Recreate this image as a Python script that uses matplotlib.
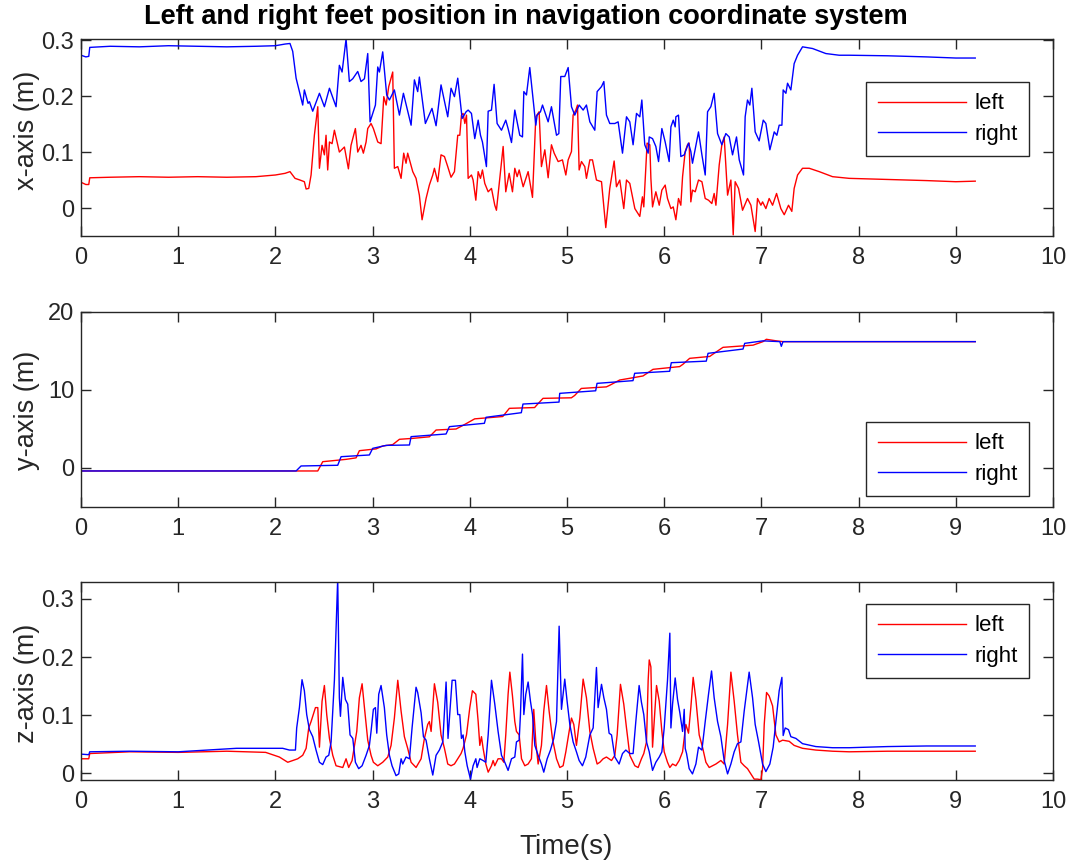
import numpy as np
import matplotlib
matplotlib.use("Agg")
import matplotlib.pyplot as plt

plt.rcParams['font.family'] = ['Liberation Sans', 'DejaVu Sans']

# ---------------- data (time [s], value) ----------------
x_left = [(0,0.046),(0.05,0.042),(0.08,0.042),(0.09,0.054),(0.3,0.055),(0.6,0.056),(0.9,0.055),(1.2,0.056),(1.5,0.055),(1.8,0.056),(2.0,0.059),(2.1,0.062),(2.15,0.065),(2.202,0.053),(2.253,0.050),(2.298,0.047),(2.316,0.034),(2.343,0.035),(2.367,0.059),(2.401,0.130),(2.436,0.181),(2.453,0.071),(2.480,0.112),(2.504,0.095),(2.521,0.130),(2.538,0.068),(2.556,0.118),(2.583,0.115),(2.607,0.139),(2.658,0.100),(2.710,0.109),(2.751,0.070),(2.778,0.112),(2.823,0.142),(2.847,0.100),(2.881,0.112),(2.905,0.098),(2.933,0.118),(2.950,0.142),(2.984,0.151),(3.008,0.142),(3.053,0.118),(3.087,0.115),(3.115,0.199),(3.139,0.184),(3.166,0.217),(3.207,0.243),(3.224,0.071),(3.259,0.074),(3.293,0.053),(3.320,0.098),(3.344,0.080),(3.361,0.098),(3.413,0.065),(3.447,0.053),(3.481,0.023),(3.509,-0.021),(3.550,0.017),(3.584,0.041),(3.619,0.059),(3.636,0.071),(3.670,0.047),(3.704,0.095),(3.739,0.092),(3.773,0.074),(3.807,0.055),(3.842,0.065),(3.876,0.130),(3.897,0.130),(3.914,0.166),(3.931,0.169),(3.949,0.151),(3.966,0.166),(3.983,0.053),(4.017,0.059),(4.034,0.050),(4.062,0.014),(4.086,0.065),(4.110,0.053),(4.130,0.068),(4.154,0.044),(4.189,0.029),(4.223,0.035),(4.257,0.005),(4.274,-0.004),(4.309,0.053),(4.343,0.110),(4.370,0.029),(4.405,0.062),(4.439,0.029),(4.463,0.071),(4.487,0.056),(4.508,0.068),(4.549,0.038),(4.600,0.065),(4.645,0.019),(4.679,0.163),(4.713,0.172),(4.737,0.074),(4.772,0.104),(4.806,0.054),(4.840,0.113),(4.868,0.098),(4.909,0.083),(4.953,0.086),(4.988,0.059),(5.012,0.086),(5.046,0.101),(5.063,0.166),(5.091,0.175),(5.108,0.184),(5.125,0.068),(5.149,0.083),(5.183,0.074),(5.200,0.053),(5.235,0.086),(5.262,0.086),(5.303,0.050),(5.355,0.047),(5.399,-0.035),(5.440,0.035),(5.485,0.084),(5.509,0.038),(5.543,0.050),(5.584,-0.001),(5.612,0.050),(5.646,0.044),(5.698,-0.001),(5.749,-0.015),(5.776,0.020),(5.790,0.002),(5.824,0.116),(5.852,0.113),(5.863,0.053),(5.880,0.002),(5.914,0.029),(5.949,0.005),(5.976,0.032),(6.010,0.041),(6.034,0.017),(6.069,-0.001),(6.093,0.002),(6.120,-0.021),(6.147,0.017),(6.171,0.005),(6.189,0.056),(6.216,0.101),(6.240,0.113),(6.257,0.116),(6.274,0.011),(6.291,0.032),(6.319,0.029),(6.353,0.050),(6.388,0.047),(6.422,0.017),(6.456,0.014),(6.490,0.008),(6.514,0.026),(6.532,0.005),(6.566,0.077),(6.593,0.113),(6.617,0.127),(6.652,0.023),(6.686,0.050),(6.710,-0.048),(6.730,0.047),(6.765,0.035),(6.806,-0.004),(6.857,0.017),(6.892,0.005),(6.936,-0.042),(6.960,0.017),(6.995,0.005),(7.012,0.011),(7.046,-0.001),(7.080,0.017),(7.115,0.005),(7.156,0.026),(7.200,-0.001),(7.235,-0.012),(7.279,0.005),(7.313,-0.006),(7.337,0.035),(7.372,0.059),(7.423,0.071),(7.492,0.071),(7.595,0.065),(7.732,0.056),(7.903,0.053),(8.3,0.051),(8.7,0.049),(9.0,0.047),(9.2,0.048)]

x_right = [(0,0.273),(0.05,0.270),(0.08,0.271),(0.09,0.287),(0.3,0.289),(0.6,0.288),(0.9,0.290),(1.2,0.289),(1.5,0.288),(1.8,0.289),(2.0,0.290),(2.1,0.293),(2.15,0.294),(2.178,0.280),(2.213,0.232),(2.264,0.196),(2.281,0.184),(2.298,0.211),(2.336,0.187),(2.350,0.190),(2.384,0.173),(2.453,0.205),(2.504,0.181),(2.556,0.214),(2.624,0.181),(2.658,0.255),(2.686,0.243),(2.727,0.302),(2.761,0.226),(2.796,0.231),(2.847,0.244),(2.881,0.226),(2.916,0.231),(2.950,0.276),(2.974,0.154),(3.029,0.184),(3.053,0.252),(3.070,0.243),(3.104,0.279),(3.145,0.202),(3.173,0.193),(3.224,0.211),(3.276,0.166),(3.317,0.205),(3.396,0.148),(3.430,0.229),(3.464,0.208),(3.481,0.234),(3.543,0.151),(3.611,0.178),(3.653,0.147),(3.704,0.220),(3.773,0.163),(3.807,0.214),(3.842,0.199),(3.876,0.232),(3.921,0.160),(3.962,0.172),(3.983,0.175),(4.017,0.169),(4.051,0.124),(4.086,0.157),(4.110,0.130),(4.130,0.118),(4.171,0.074),(4.189,0.173),(4.223,0.175),(4.250,0.221),(4.281,0.151),(4.326,0.139),(4.370,0.157),(4.394,0.142),(4.429,0.117),(4.463,0.175),(4.514,0.130),(4.542,0.127),(4.556,0.208),(4.583,0.202),(4.617,0.251),(4.645,0.205),(4.679,0.148),(4.693,0.166),(4.727,0.172),(4.748,0.184),(4.806,0.154),(4.840,0.181),(4.892,0.130),(4.916,0.133),(4.936,0.235),(4.977,0.235),(5.012,0.251),(5.046,0.181),(5.080,0.166),(5.125,0.184),(5.166,0.175),(5.200,0.184),(5.235,0.154),(5.286,0.139),(5.310,0.208),(5.355,0.217),(5.379,0.226),(5.406,0.166),(5.440,0.151),(5.492,0.151),(5.526,0.154),(5.571,0.098),(5.612,0.163),(5.646,0.154),(5.680,0.113),(5.715,0.169),(5.749,0.163),(5.770,0.193),(5.800,0.113),(5.835,0.098),(5.846,0.127),(5.880,0.124),(5.914,0.110),(5.942,0.083),(5.976,0.142),(6.010,0.118),(6.051,0.083),(6.069,0.145),(6.093,0.157),(6.113,0.145),(6.120,0.163),(6.147,0.166),(6.171,0.092),(6.206,0.095),(6.250,0.116),(6.274,0.101),(6.291,0.080),(6.353,0.136),(6.388,0.095),(6.422,0.059),(6.446,0.172),(6.480,0.181),(6.514,0.205),(6.549,0.133),(6.593,0.113),(6.634,0.133),(6.669,0.127),(6.703,0.095),(6.744,0.127),(6.772,0.086),(6.816,0.059),(6.833,0.163),(6.857,0.193),(6.881,0.184),(6.902,0.214),(6.936,0.136),(6.977,0.120),(7.019,0.157),(7.046,0.151),(7.087,0.104),(7.132,0.136),(7.159,0.130),(7.183,0.148),(7.211,0.148),(7.224,0.211),(7.252,0.205),(7.269,0.223),(7.303,0.211),(7.337,0.258),(7.372,0.273),(7.423,0.288),(7.526,0.285),(7.663,0.276),(7.800,0.273),(7.903,0.273),(8.3,0.272),(8.7,0.270),(9.0,0.268),(9.2,0.268)]

y_left = [(0,-0.38),(2.436,-0.38),(2.487,0.81),(2.641,1.0),(2.727,1.11),(2.830,1.3),(2.864,2.22),(3.036,2.45),(3.104,2.82),(3.207,3.0),(3.276,3.68),(3.413,3.80),(3.584,4.0),(3.653,4.87),(3.859,5.0),(3.95,5.6),(4.05,6.3),(4.339,6.6),(4.407,7.65),(4.667,7.75),(4.684,8.0),(4.753,8.93),(5.045,9.0),(5.079,9.3),(5.147,10.2),(5.405,10.4),(5.439,10.6),(5.542,11.28),(5.645,11.5),(5.782,11.8),(5.885,12.65),(6.159,13.0),(6.193,13.3),(6.262,14.06),(6.468,14.3),(6.502,14.6),(6.605,15.47),(6.914,15.75),(7.016,16.2),(7.051,16.5),(7.154,16.3),(7.222,16.2),(9.2,16.2)]

y_right = [(0,-0.38),(2.213,-0.38),(2.264,0.26),(2.641,0.35),(2.676,1.45),(2.967,1.67),(3.001,2.52),(3.139,2.9),(3.379,2.95),(3.396,4.02),(3.756,4.36),(3.790,5.30),(4.150,5.73),(4.167,6.50),(4.530,7.09),(4.547,8.2),(4.918,8.45),(4.925,9.57),(5.295,9.9),(5.309,10.85),(5.679,11.2),(5.696,12.14),(6.056,12.4),(6.073,13.5),(6.433,13.7),(6.451,14.7),(6.811,15.25),(6.828,15.98),(7.016,16.3),(7.19,16.2),(7.205,15.6),(7.222,16.2),(9.2,16.2)]

z_left = [(0,0.025),(0.08,0.025),(0.09,0.034),(0.5,0.037),(1.0,0.036),(1.5,0.038),(1.9,0.036),(2.041,0.028),(2.127,0.019),(2.178,0.022),(2.230,0.025),(2.281,0.031),(2.316,0.043),(2.343,0.078),(2.367,0.089),(2.412,0.113),(2.436,0.113),(2.453,0.045),(2.480,0.124),(2.504,0.151),(2.528,0.101),(2.556,0.060),(2.590,0.031),(2.624,0.013),(2.693,0.010),(2.727,0.025),(2.754,0.010),(2.789,0.022),(2.837,0.072),(2.864,0.130),(2.892,0.154),(2.916,0.113),(2.950,0.057),(2.984,0.031),(3.008,0.019),(3.053,0.013),(3.104,0.019),(3.156,0.028),(3.190,0.048),(3.224,0.095),(3.259,0.160),(3.293,0.107),(3.327,0.063),(3.361,0.043),(3.396,0.019),(3.447,0.010),(3.499,0.025),(3.533,0.060),(3.567,0.084),(3.584,0.089),(3.602,0.072),(3.636,0.154),(3.670,0.122),(3.704,0.066),(3.739,0.043),(3.773,0.016),(3.807,0.013),(3.842,0.016),(3.876,0.025),(3.910,0.034),(3.931,0.043),(3.966,0.066),(4.0,0.113),(4.027,0.142),(4.062,0.136),(4.086,0.089),(4.103,0.048),(4.120,0.063),(4.137,0.043),(4.165,0.016),(4.189,0.002),(4.223,0.013),(4.240,0.022),(4.257,0.013),(4.291,0.025),(4.326,0.025),(4.350,0.019),(4.370,0.066),(4.394,0.136),(4.412,0.174),(4.439,0.133),(4.463,0.089),(4.480,0.072),(4.508,0.066),(4.532,0.025),(4.566,0.013),(4.600,0.016),(4.634,0.025),(4.658,0.110),(4.679,0.054),(4.703,0.016),(4.737,0.048),(4.761,0.107),(4.789,0.151),(4.816,0.107),(4.850,0.060),(4.892,0.025),(4.926,0.010),(4.960,0.013),(4.988,0.037),(5.022,0.072),(5.046,0.095),(5.070,0.084),(5.097,0.048),(5.132,0.095),(5.166,0.162),(5.200,0.130),(5.235,0.072),(5.269,0.043),(5.310,0.016),(5.338,0.019),(5.372,0.025),(5.406,0.028),(5.458,0.022),(5.492,0.031),(5.516,0.066),(5.550,0.153),(5.584,0.119),(5.612,0.078),(5.646,0.031),(5.698,0.013),(5.732,0.010),(5.766,0.025),(5.790,0.034),(5.818,0.054),(5.835,0.160),(5.846,0.195),(5.863,0.183),(5.880,0.045),(5.897,0.089),(5.921,0.151),(5.949,0.124),(5.976,0.072),(6.0,0.037),(6.034,0.019),(6.058,0.010),(6.086,0.016),(6.120,0.013),(6.154,0.022),(6.189,0.037),(6.223,0.084),(6.250,0.069),(6.274,0.113),(6.298,0.165),(6.326,0.127),(6.360,0.066),(6.394,0.045),(6.429,0.019),(6.463,0.010),(6.497,0.013),(6.532,0.016),(6.583,0.022),(6.617,0.016),(6.652,0.084),(6.686,0.174),(6.720,0.124),(6.754,0.066),(6.789,0.019),(6.823,0.013),(6.857,0.008),(6.892,-0.001),(6.926,-0.010),(6.960,-0.010),(6.995,-0.011),(7.012,0.008),(7.029,0.084),(7.053,0.139),(7.080,0.133),(7.115,0.116),(7.149,0.066),(7.183,0.054),(7.218,0.057),(7.286,0.055),(7.337,0.048),(7.423,0.043),(7.560,0.040),(7.732,0.038),(7.903,0.037),(8.3,0.038),(8.7,0.038),(9.2,0.038)]

z_right = [(0,0.033),(0.08,0.032),(0.09,0.037),(0.5,0.038),(1.0,0.037),(1.3,0.040),(1.6,0.043),(1.938,0.043),(2.075,0.043),(2.144,0.040),(2.206,0.040),(2.219,0.078),(2.247,0.113),(2.274,0.161),(2.298,0.142),(2.322,0.101),(2.350,0.075),(2.384,0.063),(2.418,0.040),(2.453,0.019),(2.487,0.015),(2.521,0.028),(2.549,0.031),(2.573,0.054),(2.607,0.160),(2.641,0.335),(2.658,0.130),(2.669,0.098),(2.693,0.165),(2.720,0.127),(2.744,0.119),(2.768,0.066),(2.796,0.060),(2.823,0.019),(2.857,0.008),(2.892,0.013),(2.933,0.031),(2.967,0.048),(2.984,0.072),(3.008,0.110),(3.029,0.113),(3.043,0.069),(3.063,0.136),(3.087,0.151),(3.121,0.113),(3.145,0.066),(3.173,0.031),(3.200,0.013),(3.241,-0.004),(3.269,-0.001),(3.293,0.025),(3.310,0.016),(3.344,0.028),(3.379,0.025),(3.406,0.078),(3.447,0.148),(3.464,0.139),(3.499,0.104),(3.523,0.063),(3.550,0.057),(3.584,0.025),(3.619,-0.003),(3.653,0.031),(3.687,0.040),(3.722,0.054),(3.756,0.157),(3.776,0.060),(3.818,0.160),(3.852,0.160),(3.876,0.101),(3.897,0.101),(3.914,0.060),(3.931,0.066),(3.949,0.037),(3.973,0.013),(4.007,-0.010),(4.034,0.013),(4.062,0.025),(4.075,0.010),(4.103,0.025),(4.137,0.022),(4.165,0.019),(4.189,0.066),(4.223,0.160),(4.257,0.119),(4.291,0.072),(4.326,0.031),(4.360,0.019),(4.394,0.005),(4.429,0.025),(4.463,0.028),(4.480,0.054),(4.508,0.057),(4.521,0.101),(4.542,0.205),(4.556,0.101),(4.576,0.136),(4.600,0.157),(4.624,0.124),(4.645,0.101),(4.669,0.048),(4.703,0.031),(4.737,0.016),(4.761,0.002),(4.796,0.025),(4.830,0.040),(4.864,0.060),(4.892,0.089),(4.919,0.253),(4.943,0.110),(4.977,0.162),(5.001,0.124),(5.029,0.084),(5.063,0.054),(5.097,0.037),(5.125,0.022),(5.159,0.013),(5.193,0.028),(5.235,0.066),(5.269,0.078),(5.303,0.182),(5.320,0.113),(5.355,0.153),(5.379,0.130),(5.406,0.110),(5.433,0.069),(5.458,0.066),(5.492,0.028),(5.536,0.016),(5.571,0.034),(5.605,0.040),(5.646,0.034),(5.680,0.034),(5.708,0.089),(5.742,0.151),(5.766,0.122),(5.790,0.101),(5.818,0.054),(5.846,0.037),(5.880,0.005),(5.914,0.019),(5.949,0.028),(5.976,0.037),(6.0,0.078),(6.034,0.160),(6.058,0.241),(6.069,0.078),(6.086,0.119),(6.113,0.164),(6.137,0.127),(6.161,0.104),(6.189,0.072),(6.206,0.110),(6.216,0.043),(6.230,0.034),(6.257,0.008),(6.291,-0.001),(6.326,0.016),(6.353,0.045),(6.388,0.040),(6.422,0.089),(6.456,0.136),(6.487,0.176),(6.514,0.130),(6.549,0.089),(6.583,0.063),(6.617,0.022),(6.652,-0.001),(6.686,0.016),(6.720,0.037),(6.754,0.051),(6.789,0.054),(6.823,0.107),(6.874,0.174),(6.909,0.130),(6.936,0.084),(6.971,0.054),(7.012,0.016),(7.046,0.003),(7.087,0.016),(7.121,0.045),(7.149,0.089),(7.183,0.142),(7.211,0.165),(7.224,0.065),(7.245,0.078),(7.279,0.075),(7.303,0.063),(7.355,0.060),(7.423,0.051),(7.560,0.046),(7.732,0.044),(7.903,0.044),(8.3,0.046),(8.7,0.047),(9.2,0.047)]

series_labels = ["left", "right"]
ylabels = ["x-axis (m)", "y-axis (m)", "z-axis (m)"]
title = "Left and right feet position in navigation coordinate system"
xlabel = "Time(s)"

# ---------------- figure ----------------
W, H = 1073, 866
fig = plt.figure(figsize=(W/100, H/100), dpi=100)

def box(l, t, r, b):
    return [l/W, 1 - b/H, (r - l)/W, (b - t)/H]

axes = [fig.add_axes(box(81, 39, 1053, 236)),
        fig.add_axes(box(81, 312, 1053, 507)),
        fig.add_axes(box(81, 582, 1053, 780))]

data = [(x_left, x_right), (y_left, y_right), (z_left, z_right)]
ylims = [(-0.05, 0.302), (-5, 20), (-0.0115, 0.329)]
yticks = [[0, 0.1, 0.2, 0.3], [0, 10, 20], [0, 0.1, 0.2, 0.3]]
ytl = [["0", "0.1", "0.2", "0.3"], ["0", "10", "20"], ["0", "0.1", "0.2", "0.3"]]
leg_top = [0.78, 0.434, 0.887]
label_y = [130, 410, 683]
dark = "#262626"

for i, ax in enumerate(axes):
    l, r = data[i]
    tl, vl = zip(*l)
    tr, vr = zip(*r)
    ax.plot(tl, vl, color="#ff0000", lw=1.0, label=series_labels[0])
    ax.plot(tr, vr, color="#0000ff", lw=1.0, label=series_labels[1])
    ax.set_xlim(0, 10)
    ax.set_ylim(*ylims[i])
    ax.set_xticks(range(11))
    ax.set_yticks(yticks[i])
    ax.set_yticklabels(ytl[i])
    ax.tick_params(direction="in", top=True, right=True, length=7, width=1.0,
                   colors=dark, labelsize=17, pad=8)
    ax.tick_params(axis="y", pad=5)
    for s in ax.spines.values():
        s.set_color(dark)
        s.set_linewidth(1.0)
    leg = ax.legend(loc="upper right", bbox_to_anchor=(0.975, leg_top[i]),
                    fontsize=16, handlelength=4.0, handletextpad=0.35,
                    borderpad=0.5, labelspacing=0.42, fancybox=False,
                    framealpha=1, edgecolor=dark, borderaxespad=0)
    leg.get_frame().set_linewidth(1.0)
    fig.text(27/W, 1 - label_y[i]/H, ylabels[i], rotation=90, ha="center",
             va="center", fontsize=19.5, color=dark)

fig.text(526/W, 1 - 17/H, title, ha="center", va="center", fontsize=19.5,
         fontweight="bold", color="black")
fig.text(566/W, 1 - 847/H, xlabel, ha="center", va="center", fontsize=20,
         color=dark)

fig.savefig("out.png", dpi=100)
